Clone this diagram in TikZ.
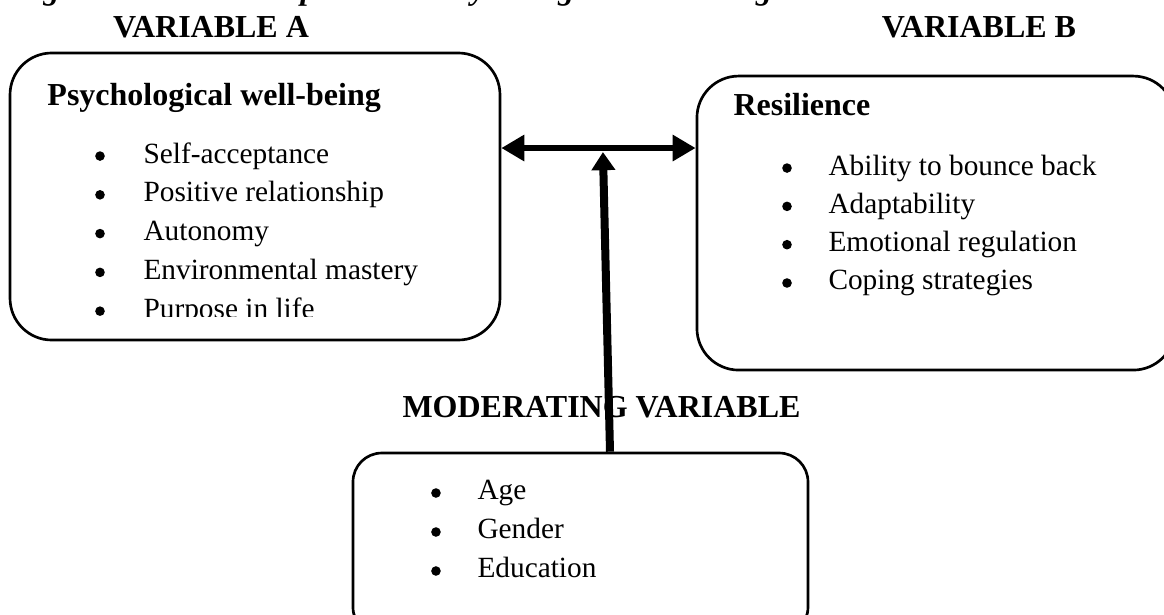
\documentclass[tikz,border=0pt]{standalone}
\usepackage{fontspec}
\setmainfont{Liberation Serif}
\usetikzlibrary{arrows.meta}

\begin{document}
\begin{tikzpicture}[x=1cm,y=1cm,
    every node/.style={font=\fontsize{11}{13.2}\selectfont, inner sep=0pt},
    panel/.style={draw, line width=1pt, rounded corners=#1, inner sep=0pt},
    heading/.style={font=\fontsize{12}{14.4}\selectfont\bfseries, anchor=base},
    item/.style={anchor=base west},
    dot/.style={circle, fill, minimum size=3.6pt}]
                \useasboundingbox (0,0) rectangle (15.342,8.093);
                \clip (0,0) rectangle (15.342,8.093);

                % caption, cut at the top of the page
                \node[anchor=base west, font=\fontsize{12}{14.4}\selectfont\bfseries\itshape] (caption) at (0.171,8.095)
                    {Figure 1: Relationship between Psychological Well-being and Resilience};
                \node[heading] (varA) at (2.781,7.605) {VARIABLE A};
                \node[heading] (varB) at (12.903,7.605) {VARIABLE B};

                % the three boxes
                \node[panel=0.55cm, minimum width=6.458cm, minimum height=3.783cm] (boxA) at (3.361,5.503) {};
                \node[panel=0.55cm, minimum width=6.300cm, minimum height=3.875cm] (boxB) at (12.336,5.153) {};
                \node[panel=0.38cm, minimum width=5.997cm, minimum height=2.412cm] (boxC) at (7.651,0.916) {};

                \node[heading, anchor=base west] (titleA) at (0.619,6.709) {Psychological well-being};
                \begin{scope}
                    \clip (0,3.928) rectangle (6.6,7);
                    \foreach \txt [count=\i from 0] in {Self-acceptance, Positive relationship, Autonomy, Environmental mastery, Purpose in life} {
                        \node[dot] (adot\i) at (1.318,{6.036-0.511*\i}) {};
                        \node[item] (a\i) at (1.885,{5.944-0.511*\i}) {\txt};
                    }
                \end{scope}

                \node[heading, anchor=base west] (titleB) at (9.661,6.577) {Resilience};
                \foreach \txt [count=\i from 0] in {Ability to bounce back, Adaptability, Emotional regulation, Coping strategies} {
                    \node[dot] (bdot\i) at (10.373,{5.878-0.505*\i}) {};
                    \node[item] (b\i) at (10.913,{5.786-0.505*\i}) {\txt};
                }

                \node[heading] (titleC) at (7.928,2.596) {MODERATING VARIABLE};
                \foreach \txt [count=\i from 0] in {Age, Gender, Education} {
                    \node[dot] (cdot\i) at (5.746,{1.595-0.514*\i}) {};
                    \node[item] (c\i) at (6.287,{1.503-0.514*\i}) {\txt};
                }

                % arrows
                \coordinate (link) at (7.947,6.142);
                \coordinate (tip) at (7.947,6.089);
                \coordinate (foot) at (8.040,2.122);
                \draw[line width=2.6pt, {Triangle[length=8.6pt,width=9.4pt]}-{Triangle[length=8.6pt,width=9.4pt]}]
                    (boxA.east |- link) -- (boxB.west |- link);
                \draw[line width=3pt, -{Triangle[length=6.8pt,width=8.6pt]}] (boxC.north -| foot) -- (tip);
            \end{tikzpicture}
\end{document}
